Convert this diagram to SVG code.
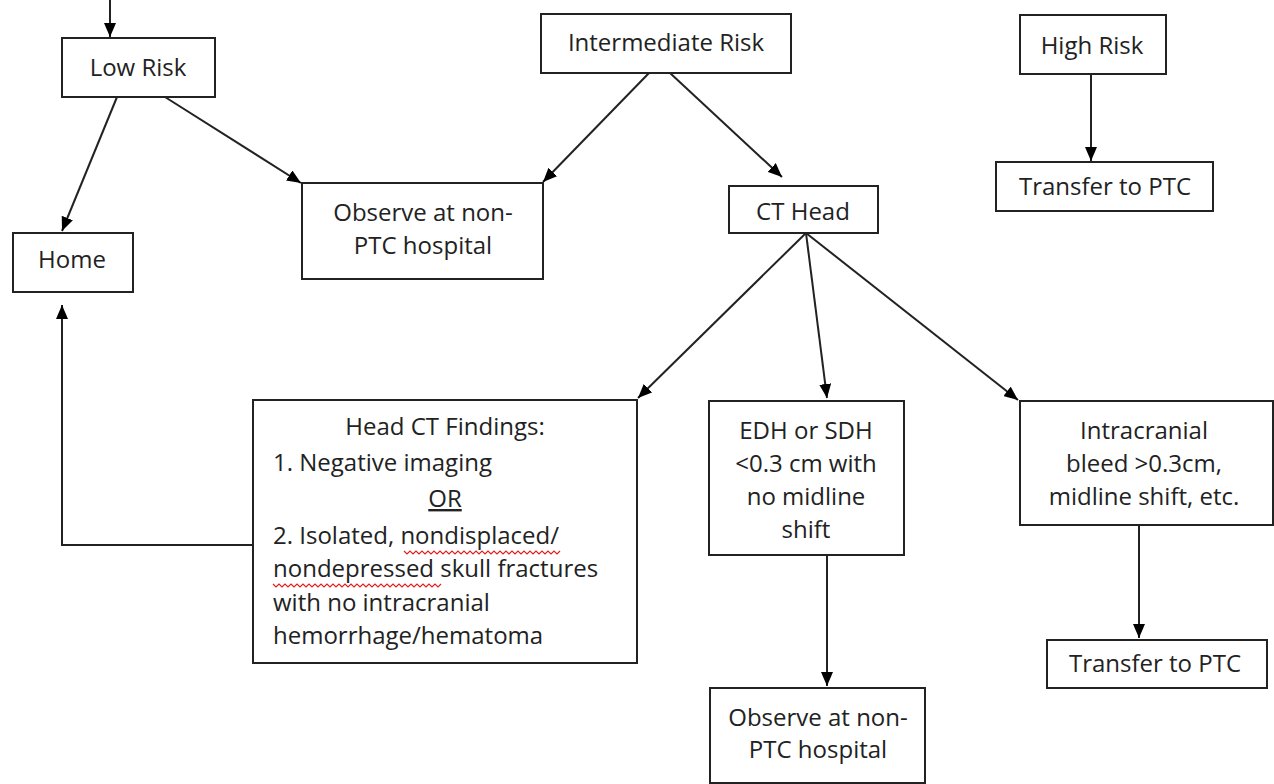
<svg xmlns="http://www.w3.org/2000/svg" width="1274" height="784" viewBox="0 0 1274 784">
<style>
.box{fill:#fff;stroke:#222;stroke-width:2}
.t{font-family:"Open Sans","Noto Sans",sans-serif;font-size:24px;fill:#222}
.c{text-anchor:middle}
.ln{fill:none;stroke:#222;stroke-width:2}
.sq{fill:none;stroke:#e02020;stroke-width:1.2}
</style>
<defs>
<marker id="ah" markerUnits="userSpaceOnUse" markerWidth="14" markerHeight="12" refX="14" refY="6" orient="auto">
<path d="M0,0 L14,6 L0,12 z" fill="#000"/>
</marker>
</defs>
<rect width="1274" height="784" fill="#fff"/>
<g id="connectors">
<line class="ln" x1="110" y1="0" x2="110" y2="37" marker-end="url(#ah)"/>
<line class="ln" x1="117" y1="97" x2="62" y2="231" marker-end="url(#ah)"/>
<line class="ln" x1="165" y1="97" x2="301" y2="183" marker-end="url(#ah)"/>
<line class="ln" x1="649" y1="73" x2="543" y2="182" marker-end="url(#ah)"/>
<line class="ln" x1="670" y1="73" x2="782" y2="177" marker-end="url(#ah)"/>
<line class="ln" x1="1091" y1="74" x2="1091" y2="161" marker-end="url(#ah)"/>
<line class="ln" x1="806" y1="233" x2="638" y2="398" marker-end="url(#ah)"/>
<line class="ln" x1="806" y1="233" x2="827" y2="398" marker-end="url(#ah)"/>
<line class="ln" x1="806" y1="233" x2="1018" y2="400" marker-end="url(#ah)"/>
<line class="ln" x1="827" y1="555" x2="827" y2="686" marker-end="url(#ah)"/>
<line class="ln" x1="1139" y1="525" x2="1139" y2="638" marker-end="url(#ah)"/>
<polyline class="ln" points="253,545 62,545 62,305" marker-end="url(#ah)"/>
</g>
<g id="low-risk">
<rect class="box" x="62" y="38" width="153" height="59"/>
<text class="t c" x="138" y="76">Low Risk</text>
</g>
<g id="home">
<rect class="box" x="13" y="233" width="120" height="59"/>
<text class="t c" x="72" y="268">Home</text>
</g>
<g id="intermediate-risk">
<rect class="box" x="541" y="14" width="250" height="59"/>
<text class="t c" x="666" y="51">Intermediate Risk</text>
</g>
<g id="observe-1">
<rect class="box" x="302" y="183" width="241" height="96"/>
<text class="t c" x="423" y="221">Observe at non-</text>
<text class="t c" x="423" y="254">PTC hospital</text>
</g>
<g id="ct-head">
<rect class="box" x="729" y="186" width="149" height="47"/>
<text class="t c" x="803" y="220">CT Head</text>
</g>
<g id="high-risk">
<rect class="box" x="1020" y="15" width="146" height="59"/>
<text class="t c" x="1092" y="54">High Risk</text>
</g>
<g id="transfer-1">
<rect class="box" x="996" y="162" width="217" height="49"/>
<text class="t c" x="1105" y="195">Transfer to PTC</text>
</g>
<g id="head-ct-findings">
<rect class="box" x="253" y="400" width="384" height="263"/>
<text class="t c" x="445" y="435">Head CT Findings:</text>
<text class="t" x="273" y="471">1. Negative imaging</text>
<text class="t c" x="445" y="507" text-decoration="underline">OR</text>
<text class="t" x="273" y="544">2. Isolated, nondisplaced/</text>
<text class="t" x="273" y="577">nondepressed skull fractures</text>
<text class="t" x="273" y="611">with no intracranial</text>
<text class="t" x="273" y="644">hemorrhage/hematoma</text>
<path class="sq" d="M404,551 l3,3 l3,-3 l3,3 l3,-3 l3,3 l3,-3 l3,3 l3,-3 l3,3 l3,-3 l3,3 l3,-3 l3,3 l3,-3 l3,3 l3,-3 l3,3 l3,-3 l3,3 l3,-3 l3,3 l3,-3 l3,3 l3,-3 l3,3 l3,-3 l3,3 l3,-3 l3,3 l3,-3 l3,3 l3,-3 l3,3 l3,-3 l3,3 l3,-3 l3,3 l3,-3 l3,3 l3,-3 l3,3 l3,-3 l3,3 l3,-3 l3,3 l3,-3 l3,3 l3,-3 l3,3 l3,-3 l3,3 l3,-3"/>
<path class="sq" d="M273,584 l3,3 l3,-3 l3,3 l3,-3 l3,3 l3,-3 l3,3 l3,-3 l3,3 l3,-3 l3,3 l3,-3 l3,3 l3,-3 l3,3 l3,-3 l3,3 l3,-3 l3,3 l3,-3 l3,3 l3,-3 l3,3 l3,-3 l3,3 l3,-3 l3,3 l3,-3 l3,3 l3,-3 l3,3 l3,-3 l3,3 l3,-3 l3,3 l3,-3 l3,3 l3,-3 l3,3 l3,-3 l3,3 l3,-3 l3,3 l3,-3 l3,3 l3,-3 l3,3 l3,-3 l3,3 l3,-3 l3,3 l3,-3 l3,3 l3,-3 l3,3 l3,-3"/>
</g>
<g id="edh-sdh">
<rect class="box" x="709" y="401" width="195" height="154"/>
<text class="t c" x="806" y="439">EDH or SDH</text>
<text class="t c" x="806" y="472">&lt;0.3 cm with</text>
<text class="t c" x="806" y="505">no midline</text>
<text class="t c" x="806" y="538">shift</text>
</g>
<g id="intracranial">
<rect class="box" x="1020" y="401" width="253" height="124"/>
<text class="t c" x="1144" y="439">Intracranial</text>
<text class="t c" x="1144" y="472">bleed &gt;0.3cm,</text>
<text class="t c" x="1144" y="505">midline shift, etc.</text>
</g>
<g id="transfer-2">
<rect class="box" x="1047" y="640" width="220" height="48"/>
<text class="t c" x="1155" y="672">Transfer to PTC</text>
</g>
<g id="observe-2">
<rect class="box" x="710" y="688" width="215" height="95"/>
<text class="t c" x="818" y="726">Observe at non-</text>
<text class="t c" x="818" y="758">PTC hospital</text>
</g>
</svg>
